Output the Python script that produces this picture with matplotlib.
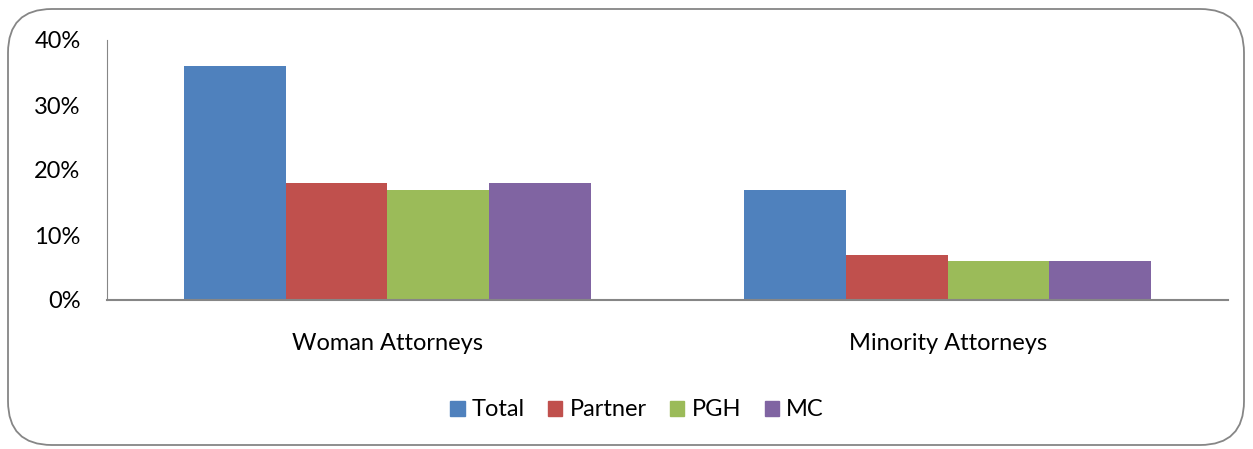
import matplotlib.pyplot as plt
import numpy as np
from matplotlib.patches import FancyBboxPatch, Patch

plt.rcParams['font.family'] = ['Lato', 'DejaVu Sans']

categories = ['Woman Attorneys', 'Minority Attorneys']
series = ['Total', 'Partner', 'PGH', 'MC']
total = [36, 17]
partner = [18, 7]
pgh = [17, 6]
mc = [18, 6]
colors = ['#4F81BD', '#C0504D', '#9BBB59', '#8064A2']

fig = plt.figure(figsize=(12.53, 4.49), dpi=100)
ax = fig.add_axes([107 / 1253, 1 - 300 / 449, 1121 / 1253, 260 / 449])

# rounded chart border
border = FancyBboxPatch((8 / 1253, 4 / 449), 1236 / 1253, 436 / 449,
                        boxstyle='round,pad=0,rounding_size=0.035',
                        transform=fig.transFigure, fill=False,
                        edgecolor='#868686', linewidth=1.3,
                        mutation_aspect=1253 / 449)
fig.patches.append(border)

x = np.arange(len(categories))
w = 0.1815
for i, (vals, c) in enumerate(zip([total, partner, pgh, mc], colors)):
    ax.bar(x + (i - 1.5) * w, vals, width=w, color=c, label=series[i])

ax.set_xlim(-0.5, 1.5)
ax.set_ylim(0, 40)
ax.set_yticks([0, 10, 20, 30, 40])
ax.set_yticklabels([f'{v}%' for v in [0, 10, 20, 30, 40]])
ax.set_xticks(x)
ax.set_xticklabels(categories)
ax.tick_params(length=0, labelsize=17)
ax.tick_params(axis='y', pad=19)
ax.tick_params(axis='x', pad=24)
for s in ['top', 'right']:
    ax.spines[s].set_visible(False)
ax.spines['left'].set_color('#868686')
ax.spines['bottom'].set_color('#868686')
ax.spines['bottom'].set_linewidth(1.5)

handles = [Patch(color=c, label=s) for s, c in zip(series, colors)]
fig.legend(handles=handles, loc='center', bbox_to_anchor=(637 / 1253, 1 - 410 / 449),
           ncol=4, frameon=False, fontsize=17, handlelength=0.6, handleheight=0.6,
           handletextpad=0.3, columnspacing=1.0)

plt.savefig('out.png', dpi=100)
